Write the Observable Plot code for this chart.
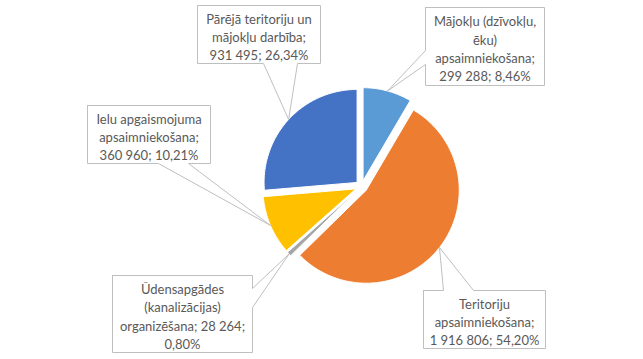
<!DOCTYPE html>
<html>
<head>
<meta charset="utf-8">
<script src="https://cdn.jsdelivr.net/npm/d3@7"></script>
<script src="https://cdn.jsdelivr.net/npm/@observablehq/plot@0.6"></script>
<style>
  html, body { margin: 0; padding: 0; background: #ffffff; }
  #chart { width: 643px; height: 359px; }
</style>
</head>
<body>
<div id="chart"></div>
<script>
// ---- data ----
const categories = [
  "Mājokļu (dzīvokļu, ēku) apsaimniekošana",
  "Teritoriju apsaimniekošana",
  "Ūdensapgādes (kanalizācijas) organizēšana",
  "Ielu apgaismojuma apsaimniekošana",
  "Pārējā teritoriju un mājokļu darbība"
];
const values = [299288, 1916806, 28264, 360960, 931495];
const valueLabels = ["299 288", "1 916 806", "28 264", "360 960", "931 495"];
const percentLabels = ["8,46%", "54,20%", "0,80%", "10,21%", "26,34%"];
const labelTexts = [
  "Mājokļu (dzīvokļu,\nēku)\napsaimniekošana;\n299 288; 8,46%",
  "Teritoriju\napsaimniekošana;\n1 916 806; 54,20%",
  "Ūdensapgādes\n(kanalizācijas)\norganizēšana; 28 264;\n0,80%",
  "Ielu apgaismojuma\napsaimniekošana;\n360 960; 10,21%",
  "Pārējā teritoriju un\nmājokļu darbība;\n931 495; 26,34%"
];
const colors = ["#5B9BD5", "#ED7D31", "#A5A5A5", "#FFC000", "#4472C4"];

// ---- layout (pixels) ----
const W = 643, H = 359;
const cx = 361, cy = 186, R = 93, explode = 6;
// callout boxes: x0, x1, y0, y1, pointer side, pointer base (two coords along that side)
const boxes = [
  {x0: 425, x1: 544, y0: 7,   y1: 85,  side: "left",   b: [50, 64]},
  {x0: 423, x1: 545, y0: 290, y1: 348, side: "top",    b: [443, 473]},
  {x0: 112, x1: 252, y0: 275, y1: 352, side: "right",  b: [288, 307]},
  {x0: 87,  x1: 210, y0: 105, y1: 163, side: "bottom", b: [158, 188]},
  {x0: 197, x1: 320, y0: 5,   y1: 63,  side: "bottom", b: [263, 297]}
];

// ---- geometry from data ----
const arcs = d3.pie().sort(null)(values);
const slicePts = [];
const tips = [];
arcs.forEach((a, i) => {
  const mid = (a.startAngle + a.endAngle) / 2;
  const ox = cx + explode * Math.sin(mid), oy = cy - explode * Math.cos(mid);
  const cat = categories[i];
  slicePts.push({cat, x: ox, y: oy});
  const n = Math.max(2, Math.ceil((a.endAngle - a.startAngle) / (Math.PI / 180)));
  for (let k = 0; k <= n; k++) {
    const t = a.startAngle + (a.endAngle - a.startAngle) * k / n;
    slicePts.push({cat, x: ox + R * Math.sin(t), y: oy - R * Math.cos(t)});
  }
  slicePts.push({cat, x: ox, y: oy});
  tips.push({x: ox + R * Math.sin(mid), y: oy - R * Math.cos(mid)});
});

const calloutPts = [];
boxes.forEach((bx, i) => {
  const id = i, tp = tips[i];
  const pts = [];
  pts.push([bx.x0, bx.y0]);
  if (bx.side === "top") { pts.push([bx.b[0], bx.y0], [tp.x, tp.y], [bx.b[1], bx.y0]); }
  pts.push([bx.x1, bx.y0]);
  if (bx.side === "right") { pts.push([bx.x1, bx.b[0]], [tp.x, tp.y], [bx.x1, bx.b[1]]); }
  pts.push([bx.x1, bx.y1]);
  if (bx.side === "bottom") { pts.push([bx.b[1], bx.y1], [tp.x, tp.y], [bx.b[0], bx.y1]); }
  pts.push([bx.x0, bx.y1]);
  if (bx.side === "left") { pts.push([bx.x0, bx.b[1]], [tp.x, tp.y], [bx.x0, bx.b[0]]); }
  pts.push([bx.x0, bx.y0]);
  pts.forEach(([x, y]) => calloutPts.push({id, x, y}));
});

const labels = boxes.map((bx, i) => ({
  x: (bx.x0 + bx.x1) / 2,
  y: (bx.y0 + bx.y1) / 2 + 1.5,
  text: labelTexts[i]
}));

const chart = Plot.plot({
  width: W,
  height: H,
  margin: 0,
  style: {background: "#ffffff"},
  x: {domain: [0, W], range: [0, W], axis: null},
  y: {domain: [0, H], range: [0, H], axis: null},
  color: {domain: categories, range: colors},
  marks: [
    Plot.line(slicePts, {x: "x", y: "y", z: "cat", fill: "cat", stroke: "#ffffff", strokeWidth: 1}),
    Plot.line(calloutPts, {x: "x", y: "y", z: "id", fill: "#ffffff", stroke: "#BFBFBF", strokeWidth: 1}),
    Plot.text(labels, {
      x: "x", y: "y", text: "text",
      fontSize: 13, lineHeight: 1.41, lineAnchor: "middle",
      fontFamily: "Lato", fill: "#595959"
    })
  ]
});
document.getElementById("chart").appendChild(chart);
</script>
</body>
</html>
